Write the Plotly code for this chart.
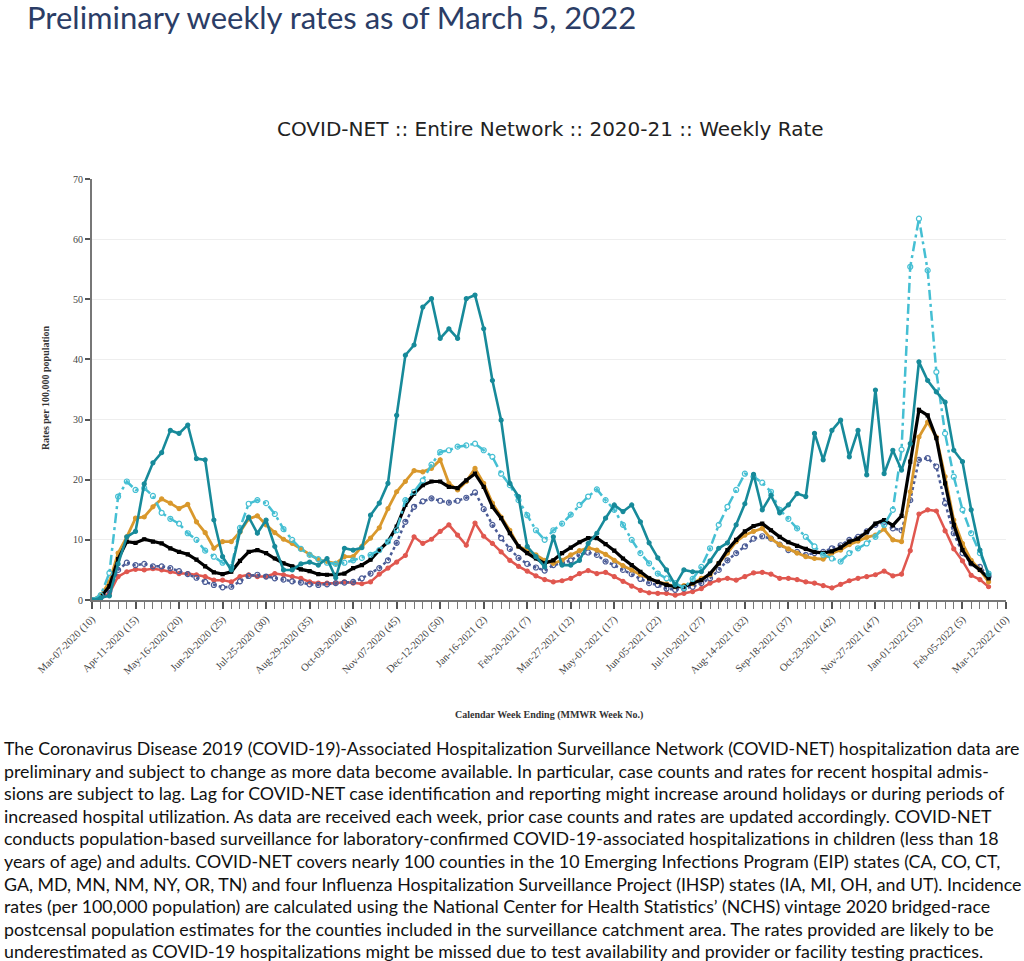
import pandas as pd
import plotly.graph_objects as go

# ---------------- data ----------------
tick_labels = [
    "Mar-07-2020 (10)", "Apr-11-2020 (15)", "May-16-2020 (20)", "Jun-20-2020 (25)",
    "Jul-25-2020 (30)", "Aug-29-2020 (35)", "Oct-03-2020 (40)", "Nov-07-2020 (45)",
    "Dec-12-2020 (50)", "Jan-16-2021 (2)", "Feb-20-2021 (7)", "Mar-27-2021 (12)",
    "May-01-2021 (17)", "Jun-05-2021 (22)", "Jul-10-2021 (27)", "Aug-14-2021 (32)",
    "Sep-18-2021 (37)", "Oct-23-2021 (42)", "Nov-27-2021 (47)", "Jan-01-2022 (52)",
    "Feb-05-2022 (5)", "Mar-12-2022 (10)",
]
week_ending = pd.date_range("2020-03-07", "2022-03-12", freq="7D")  # 106 MMWR weeks

teal_solid = [
    0, 0.3, 0.7, 6.0, 10.5, 11.4, 19.3, 22.8, 24.5, 28.2, 27.7, 29.1, 23.5, 23.3, 13.3, 7.2,
    5.0, 11.4, 13.8, 11.1, 13.3, 8.9, 5.0, 5.0, 6.0, 6.3, 5.8, 6.9, 3.7, 8.6, 8.3, 8.7,
    14.1, 16.1, 19.4, 30.7, 40.7, 42.4, 48.7, 50.1, 43.5, 45.1, 43.5, 50.1, 50.7, 45.1, 36.5, 29.9,
    19.4, 17.2, 8.9, 7.2, 5.5, 10.5, 5.8, 5.8, 6.6, 9.4, 11.1, 13.6, 15.8, 14.7, 15.8, 13.0,
    9.5, 7.0, 5.0, 2.5, 5.0, 4.7, 4.7, 6.5, 8.6, 9.5, 12.5, 16.0, 20.9, 15.0, 17.4, 14.5,
    15.8, 17.7, 17.2, 27.7, 23.3, 28.2, 29.9, 23.8, 28.2, 20.8, 34.9, 21.0, 24.9, 21.6, 26.0, 39.6,
    36.5, 34.6, 32.9, 24.9, 23.0, 15.0, 8.3, 4.2,
]
teal_dashdot = [
    0, 0.8, 4.5, 17.2, 19.7, 18.3, 18.6, 17.3, 14.5, 13.5, 12.7, 11.1, 10.0, 8.2, 7.2, 6.2,
    5.5, 12.0, 16.0, 16.6, 16.1, 14.3, 11.8, 10.0, 8.5, 7.5, 6.8, 6.2, 6.0, 6.2, 6.6, 7.0,
    7.5, 8.3, 9.7, 11.6, 16.6, 18.0, 19.9, 22.5, 24.6, 24.9, 25.5, 25.7, 26.0, 24.9, 23.8, 21.0,
    19.1, 16.6, 14.1, 11.6, 10.0, 11.6, 12.7, 14.2, 15.8, 17.2, 18.4, 16.6, 15.0, 12.5, 10.0, 7.8,
    6.1, 4.4, 3.6, 2.8, 2.0, 3.5, 5.5, 8.6, 12.5, 15.5, 18.3, 21.0, 20.5, 19.5, 18.0, 15.0,
    13.5, 11.9, 10.5, 8.9, 7.5, 6.9, 6.4, 7.8, 8.6, 9.4, 10.5, 12.5, 15.0, 25.0, 55.4, 63.4,
    54.8, 37.9, 27.7, 20.5, 15.0, 11.1, 7.8, 4.4,
]
orange = [
    0, 0.8, 3.0, 7.8, 10.5, 13.6, 13.8, 15.5, 16.8, 16.1, 15.2, 15.9, 13.0, 11.2, 8.6, 9.7,
    9.7, 11.3, 13.5, 14.0, 12.5, 11.2, 10.1, 9.4, 8.5, 7.6, 6.7, 6.4, 6.1, 7.2, 7.2, 8.9,
    10.3, 12.0, 15.2, 18.0, 19.7, 21.5, 21.3, 21.9, 23.3, 19.4, 18.3, 19.7, 21.9, 19.4, 16.1, 13.8,
    11.6, 8.9, 8.3, 7.5, 6.6, 6.1, 6.6, 7.5, 8.2, 8.7, 8.3, 7.6, 6.6, 5.7, 5.0, 4.2,
    3.6, 3.0, 2.7, 2.2, 2.4, 2.7, 3.6, 4.2, 6.1, 7.8, 9.7, 10.8, 11.4, 11.9, 10.2, 9.2,
    8.5, 7.8, 7.2, 6.9, 6.8, 7.8, 8.3, 9.2, 9.8, 10.4, 10.8, 11.8, 10.0, 9.7, 18.0, 27.1,
    29.6, 27.1, 20.5, 13.3, 9.4, 6.6, 5.0, 3.0,
]
overall_black = [
    0, 0.5, 2.3, 6.8, 9.7, 9.5, 10.1, 9.7, 9.4, 8.6, 8.0, 7.6, 6.7, 5.6, 4.6, 4.3,
    4.7, 6.5, 8.0, 8.3, 7.8, 6.9, 6.1, 5.6, 5.1, 4.8, 4.3, 4.2, 4.2, 4.4, 5.3, 5.8,
    6.7, 8.3, 9.7, 12.2, 15.8, 17.7, 19.1, 19.7, 19.7, 18.8, 18.6, 19.9, 21.0, 18.8, 15.5, 13.6,
    11.1, 8.9, 7.8, 6.9, 6.1, 6.6, 7.8, 8.7, 9.6, 10.3, 10.3, 9.3, 8.2, 6.9, 5.8, 4.7,
    3.6, 3.0, 2.5, 2.2, 2.2, 2.8, 3.3, 4.4, 6.1, 8.3, 10.0, 11.4, 12.3, 12.7, 11.6, 10.5,
    9.6, 9.0, 8.5, 8.0, 7.8, 8.1, 8.7, 9.7, 10.2, 11.3, 12.7, 13.3, 12.4, 14.0, 23.0, 31.6,
    30.7, 26.9, 19.4, 12.5, 8.3, 6.1, 5.0, 3.6,
]
blue_dotted = [
    0, 0.5, 1.5, 5.0, 6.2, 5.8, 6.0, 5.6, 5.6, 5.3, 4.8, 4.3, 3.7, 3.0, 2.5, 2.1,
    2.2, 3.1, 4.0, 4.2, 3.9, 3.6, 3.4, 3.1, 2.9, 2.6, 2.5, 2.6, 2.8, 2.9, 3.0, 3.6,
    4.4, 5.3, 6.6, 9.5, 13.0, 15.5, 16.4, 16.9, 16.5, 16.2, 16.5, 17.0, 17.9, 15.1, 12.5, 10.3,
    8.5, 7.0, 6.0, 5.4, 4.9, 5.8, 6.1, 6.6, 7.5, 7.9, 7.5, 6.4, 5.8, 5.0, 4.3, 3.5,
    2.8, 2.5, 1.9, 1.7, 1.9, 2.2, 2.8, 3.6, 5.0, 6.6, 7.8, 8.9, 10.2, 10.6, 10.2, 9.2,
    8.3, 8.0, 7.5, 7.8, 8.0, 8.6, 9.1, 10.0, 10.5, 11.4, 12.5, 13.0, 11.9, 11.6, 16.6, 23.3,
    23.6, 22.2, 16.1, 11.1, 7.8, 6.1, 5.5, 3.9,
]
red = [
    0, 0.3, 1.1, 3.9, 4.7, 5.1, 5.0, 5.2, 5.0, 4.7, 4.4, 4.4, 4.2, 3.9, 3.3, 3.3,
    3.0, 3.9, 4.2, 3.9, 3.9, 4.4, 4.2, 3.9, 3.6, 3.0, 2.8, 2.8, 2.8, 3.0, 2.8, 2.7,
    3.0, 4.3, 5.3, 6.3, 7.4, 10.5, 9.4, 10.1, 11.4, 12.5, 10.8, 9.1, 12.8, 10.6, 9.4, 8.0,
    6.6, 5.6, 4.8, 4.0, 3.4, 3.0, 3.2, 3.6, 4.4, 4.9, 4.4, 4.6, 3.9, 3.1, 2.3, 1.6,
    1.2, 1.1, 1.1, 0.8, 1.1, 1.4, 1.9, 2.8, 3.3, 3.6, 3.3, 3.9, 4.5, 4.6, 4.3, 3.6,
    3.6, 3.4, 3.0, 2.8, 2.4, 2.0, 2.6, 3.2, 3.6, 3.9, 4.2, 4.8, 4.0, 4.3, 8.2, 14.3,
    15.0, 14.8, 11.5, 8.5, 6.5, 4.1, 3.4, 2.2,
]

# ---------------- styles ----------------
traces = [
    ("red", red, "#e0574f", "solid", "circle", 4, 2.5),
    ("blue_dotted", blue_dotted, "#4a5b96", "dot", "circle-open", 5, 2.5),
    ("orange", orange, "#d9982c", "solid", "circle", 4, 2.8),
    ("overall", overall_black, "#000000", "solid", "square", 3, 3.2),
    ("teal_dashdot", teal_dashdot, "#45bfd3", "10px,4px,3px,4px", "circle-open", 5, 2.5),
    ("teal_solid", teal_solid, "#178a9a", "solid", "circle", 4, 2.6),
]

fig = go.Figure()
for name, vals, col, dash, sym, msize, lw in traces:
    fig.add_trace(go.Scatter(
        x=week_ending[:len(vals)], y=vals, name=name, mode="lines+markers",
        line=dict(color=col, width=lw, dash=dash),
        marker=dict(color=col, size=msize, symbol=sym, line=dict(color=col, width=1.2)),
        showlegend=False,
    ))

L, R, T, B = 92, 1008, 179, 600
W, H = 1024, 961


def px(x):
    return (x - L) / (R - L)


def py(y):
    return (B - y) / (B - T)


serif = "Liberation Serif, Times New Roman, serif"

fig.update_layout(
    width=W, height=H,
    margin=dict(l=L, r=W - R, t=T, b=H - B, pad=0),
    paper_bgcolor="white", plot_bgcolor="white",
    xaxis=dict(
        type="date",
        range=[week_ending[0], week_ending[-1]],
        tickvals=list(week_ending[::5]), ticktext=tick_labels,
        tickangle=-45, tickfont=dict(family=serif, size=10.5, color="#444"),
        ticks="outside", ticklen=7, tickcolor="#555", tickwidth=1.5,
        minor=dict(ticks="outside", ticklen=7, tickcolor="#777", tickwidth=1.3,
                   dtick=7 * 24 * 3600 * 1000, tick0=week_ending[0], showgrid=False),
        showline=True, linecolor="#777", linewidth=2,
        showgrid=False, zeroline=False,
    ),
    yaxis=dict(
        range=[0, 70], dtick=10,
        tickfont=dict(family=serif, size=10, color="#444"),
        ticks="outside", ticklen=5, tickcolor="#555", tickwidth=1.5,
        showline=True, linecolor="#777", linewidth=2,
        showgrid=True, gridcolor="#eeeeee", gridwidth=1, zeroline=False,
    ),
)

annotations = [
    dict(text="Preliminary weekly rates as of March 5, 2022", x=px(25), y=py(17),
         xanchor="left", yanchor="middle",
         font=dict(family="Lato, sans-serif", size=31, color="#2b3d66")),
    dict(text="COVID-NET :: Entire Network :: 2020-21 :: Weekly Rate", x=px(552), y=py(129),
         xanchor="center", yanchor="middle",
         font=dict(family="DejaVu Sans, sans-serif", size=20, color="#222")),
    dict(text="<b>Calendar Week Ending (MMWR Week No.)</b>", x=px(550), y=py(715),
         xanchor="center", yanchor="middle",
         font=dict(family=serif, size=10, color="#333")),
    dict(text="<b>Rates per 100,000 population</b>", x=px(45), y=py(388), textangle=-90,
         xanchor="center", yanchor="middle",
         font=dict(family=serif, size=10, color="#333")),
]

note_lines = [
    "The Coronavirus Disease 2019 (COVID-19)-Associated Hospitalization Surveillance Network (COVID-NET) hospitalization data are",
    "preliminary and subject to change as more data become available. In particular, case counts and rates for recent hospital admis-",
    "sions are subject to lag. Lag for COVID-NET case identification and reporting might increase around holidays or during periods of",
    "increased hospital utilization. As data are received each week, prior case counts and rates are updated accordingly. COVID-NET",
    "conducts population-based surveillance for laboratory-confirmed COVID-19-associated hospitalizations in children (less than 18",
    "years of age) and adults. COVID-NET covers nearly 100 counties in the 10 Emerging Infections Program (EIP) states (CA, CO, CT,",
    "GA, MD, MN, NM, NY, OR, TN) and four Influenza Hospitalization Surveillance Project (IHSP) states (IA, MI, OH, and UT). Incidence",
    "rates (per 100,000 population) are calculated using the National Center for Health Statistics\u2019 (NCHS) vintage 2020 bridged-race",
    "postcensal population estimates for the counties included in the surveillance catchment area. The rates provided are likely to be",
    "underestimated as COVID-19 hospitalizations might be missed due to test availability and provider or facility testing practices.",
]
for k, line in enumerate(note_lines):
    annotations.append(dict(
        text=line, x=px(2), y=py(748 + k * 22.6), xanchor="left", yanchor="middle",
        font=dict(family="Lato, sans-serif", size=17.8, color="#111"),
    ))

for a in annotations:
    a.update(xref="paper", yref="paper", showarrow=False)
fig.update_layout(annotations=annotations)

fig.write_html(
    "out.html",
    config={"displayModeBar": False},
    post_script="document.body.style.margin='0';document.body.style.overflow='hidden';",
)
